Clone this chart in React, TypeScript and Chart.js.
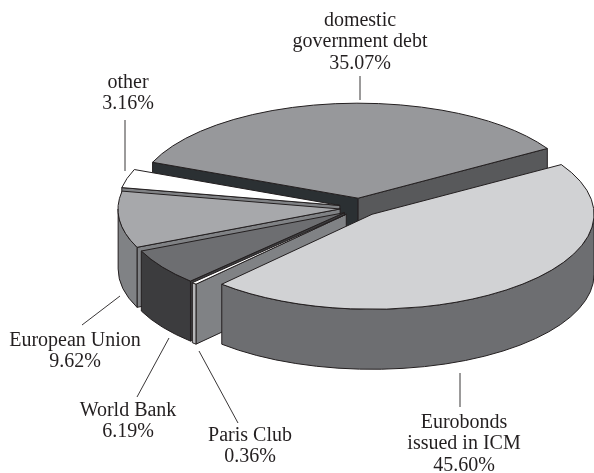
import React, { useEffect, useRef } from "react";
import { Chart, registerables } from "chart.js";

Chart.register(...registerables);

const categories = ["domestic government debt", "Eurobonds issued in ICM", "Paris Club", "World Bank", "European Union", "other"];
const shares = [35.07, 45.6, 0.36, 6.19, 9.62, 3.16];

const topColors = ["#97989b", "#d1d2d4", "#ffffff", "#6d6e71", "#a7a8ab", "#ffffff"];
const outerWallColors = ["#58595b", "#6d6e71", "#b5b6b8", "#3c3c3e", "#808285", "#808285"];
const startWallColors = ["#2b3033", "#6d6e71", "#808285", "#3c3c3e", "#808285", "#808285"];
const endWallColors = ["#58595b", "#6d6e71", "#808285", "#3c3c3e", "#808285", "#808285"];
const explodeDistances = [23, 19, 20, 19, 20, 21];

const INK = "#231f20";
const RADIUS = 222;
const TILT = 0.428;
const DEPTH = 60;
const CENTER_X = 360;
const CENTER_Y = 208;
const FONT_SIZE = 20;

const callouts = [
  { lines: ["domestic", "government debt", "35.07%"], x: 360, y: 26, line: [360, 76, 360, 100] },
  { lines: ["other", "3.16%"], x: 128, y: 88, line: [125, 120, 125, 171] },
  { lines: ["European Union", "9.62%"], x: 75, y: 346, line: [120, 296, 82, 325] },
  { lines: ["World Bank", "6.19%"], x: 128, y: 416, line: [169, 338, 137, 397] },
  { lines: ["Paris Club", "0.36%"], x: 250, y: 441, line: [199, 351, 238, 423] },
  { lines: ["Eurobonds", "issued in ICM", "45.60%"], x: 464, y: 428, line: [460, 373, 460, 407] },
];

function piePlugin() {
  return {
    id: "tiltedPie",
    beforeDatasetDraw(chart: any) {
      const ctx = chart.ctx as CanvasRenderingContext2D;
      const arcs = chart.getDatasetMeta(0).data as any[];
      const geometry = arcs.map((arc, i) => {
        const a0 = arc.startAngle;
        const a1 = arc.endAngle;
        const mid = (a0 + a1) / 2;
        return {
          arc, i, a0, a1, mid,
          px: CENTER_X + Math.cos(mid) * explodeDistances[i],
          py: CENTER_Y + Math.sin(mid) * explodeDistances[i] * TILT,
        };
      });
      const ordered = [...geometry].sort((p, q) => Math.sin(p.mid) - Math.sin(q.mid));
      ctx.save();
      ctx.strokeStyle = INK;
      ctx.lineWidth = 1;
      ctx.lineJoin = "round";

      const finish = (color: string) => {
        ctx.fillStyle = color;
        ctx.fill();
        ctx.stroke();
      };
      const radialWall = (g: any, angle: number, color: string) => {
        const x = g.px + RADIUS * Math.cos(angle);
        const y = g.py + RADIUS * TILT * Math.sin(angle);
        ctx.beginPath();
        ctx.moveTo(g.px, g.py);
        ctx.lineTo(x, y);
        ctx.lineTo(x, y + DEPTH);
        ctx.lineTo(g.px, g.py + DEPTH);
        ctx.closePath();
        finish(color);
      };

      for (const g of ordered) {
        if (Math.sin(g.a0 - Math.PI / 2) > 0) radialWall(g, g.a0, startWallColors[g.i]);
        if (Math.sin(g.a1 + Math.PI / 2) > 0) radialWall(g, g.a1, endWallColors[g.i]);
        for (let k = -1; k <= 1; k++) {
          const lo = Math.max(g.a0, 2 * Math.PI * k);
          const hi = Math.min(g.a1, Math.PI + 2 * Math.PI * k);
          if (hi <= lo) continue;
          ctx.beginPath();
          ctx.ellipse(g.px, g.py, RADIUS, RADIUS * TILT, 0, lo, hi);
          ctx.ellipse(g.px, g.py + DEPTH, RADIUS, RADIUS * TILT, 0, hi, lo, true);
          ctx.closePath();
          finish(outerWallColors[g.i]);
        }
      }

      for (const g of ordered) {
        ctx.save();
        ctx.translate(g.px, g.py);
        ctx.scale(1, TILT);
        ctx.translate(-g.arc.x, -g.arc.y);
        g.arc.draw(ctx);
        ctx.restore();
        ctx.beginPath();
        ctx.moveTo(g.px, g.py);
        ctx.ellipse(g.px, g.py, RADIUS, RADIUS * TILT, 0, g.a0, g.a1);
        ctx.closePath();
        ctx.stroke();
      }
      ctx.restore();
      return false;
    },
    afterDraw(chart: any) {
      const ctx = chart.ctx as CanvasRenderingContext2D;
      ctx.save();
      ctx.strokeStyle = INK;
      ctx.lineWidth = 0.9;
      ctx.fillStyle = INK;
      ctx.font = `${FONT_SIZE}px "Liberation Serif"`;
      ctx.textAlign = "center";
      ctx.textBaseline = "alphabetic";
      for (const c of callouts) {
        const [x0, y0, x1, y1] = c.line;
        ctx.beginPath();
        ctx.moveTo(x0, y0);
        ctx.lineTo(x1, y1);
        ctx.stroke();
        c.lines.forEach((text, i) => ctx.fillText(text, c.x, c.y + i * 21.3));
      }
      ctx.restore();
    },
  };
}

export default function App() {
  const ref = useRef<HTMLCanvasElement>(null);
  useEffect(() => {
    document.body.style.margin = "0";
    const chart = new Chart(ref.current!, {
      type: "pie",
      data: {
        labels: categories,
        datasets: [{ data: shares, backgroundColor: topColors, borderWidth: 0, clip: false } as any],
      },
      options: {
        responsive: false,
        animation: false,
        events: [],
        rotation: -67.8,
        radius: RADIUS,
        layout: { padding: 0 },
        plugins: { legend: { display: false }, tooltip: { enabled: false } },
      } as any,
      plugins: [piePlugin() as any],
    });
    return () => chart.destroy();
  }, []);
  return <canvas ref={ref} width={594} height={473} style={{ display: "block", background: "#fff" }} />;
}
